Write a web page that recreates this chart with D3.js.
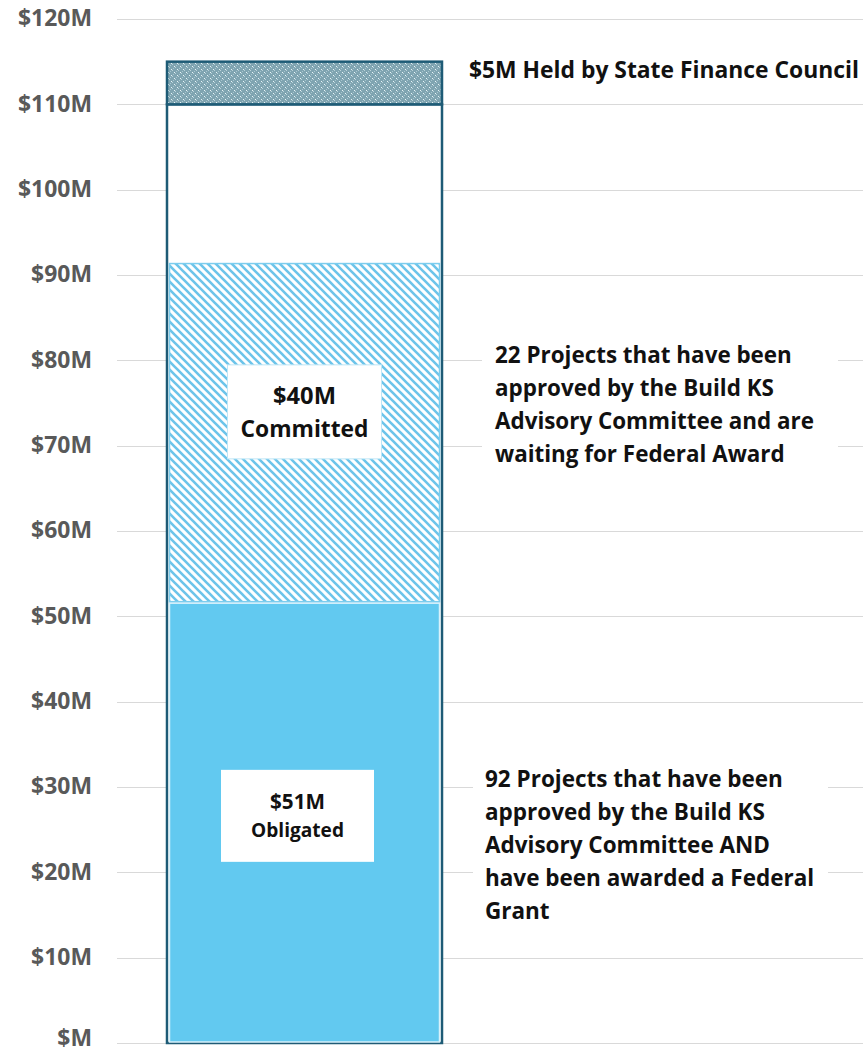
<!DOCTYPE html>
<html>
<head>
<meta charset="utf-8">
<script src="https://cdn.jsdelivr.net/npm/d3@7"></script>
<style>
  html, body { margin: 0; padding: 0; background: #fff; }
  svg { display: block; }
  text { font-family: "Open Sans", Lato, sans-serif; font-weight: 700; }
</style>
</head>
<body>
<svg id="chart" width="863" height="1054"></svg>
<script>
// ---- data ----
const categories = ["Build KS Funds"];
const segmentNames = ["Obligated", "Committed"];
const segmentValues = [51.6, 39.8];
const frameTotal = [110];
const heldValue = [5];
const tickValues = [0, 10, 20, 30, 40, 50, 60, 70, 80, 90, 100, 110, 120];
const tickLabels = ["$M", "$10M", "$20M", "$30M", "$40M", "$50M", "$60M", "$70M", "$80M", "$90M", "$100M", "$110M", "$120M"];
const boxLabels = [["$51M", "Obligated"], ["$40M", "Committed"]];
const heldLabel = ["$5M Held by State Finance Council"];
const committedNote = ["22 Projects that have been", "approved by the Build KS", "Advisory Committee and are", "waiting for Federal Award"];
const obligatedNote = ["92 Projects that have been", "approved by the Build KS", "Advisory Committee AND", "have been awarded a Federal", "Grant"];

// ---- layout ----
const svg = d3.select("#chart");
const W = 863;
const y = d3.scaleLinear().domain([0, 120]).range([1043, 19]);
const x = d3.scaleBand().domain(categories).range([167, 442]).padding(0);

function fit(sel, target) {
  const fs = +sel.attr("font-size");
  const w = sel.node().getComputedTextLength();
  if (w > 0) sel.attr("font-size", (fs * target / w).toFixed(2));
  return sel;
}

const defs = svg.append("defs");
const hatch = defs.append("pattern").attr("id", "hatch")
  .attr("patternUnits", "userSpaceOnUse").attr("width", 8).attr("height", 8);
hatch.append("rect").attr("width", 8).attr("height", 8).attr("fill", "#fff");
hatch.append("path").attr("d", "M-2,-2 L10,10 M-2,6 L2,10 M6,-2 L10,2")
  .attr("stroke", "#6cc4ea").attr("stroke-width", 2.6);
const dots = defs.append("pattern").attr("id", "dots")
  .attr("patternUnits", "userSpaceOnUse").attr("width", 6).attr("height", 6);
dots.append("rect").attr("width", 6).attr("height", 6).attr("fill", "#7fa4b1");
[[0,0,"#e8f4f7"],[3,3,"#e8f4f7"],[1,1,"#b9d2da"],[4,4,"#b9d2da"],[2,5,"#a9c6cf"],[5,2,"#a9c6cf"]]
  .forEach(p => dots.append("rect").attr("x", p[0]).attr("y", p[1]).attr("width", 1).attr("height", 1).attr("fill", p[2]));

// gridlines
svg.append("g").selectAll("line").data(tickValues).join("line")
  .attr("x1", 117).attr("x2", W)
  .attr("y1", d => Math.round(y(d)) + 0.5).attr("y2", d => Math.round(y(d)) + 0.5)
  .attr("stroke", "#d9d9d9").attr("stroke-width", 1);

// axis
const axis = d3.axisLeft(y).tickValues(tickValues)
  .tickFormat((d, i) => tickLabels[i]).tickSize(0).tickPadding(0);
const gA = svg.append("g").attr("transform", "translate(92,0)").call(axis);
gA.select(".domain").remove();
gA.selectAll("text").attr("fill", "#595959").attr("font-size", 20)
  .attr("font-family", "'Open Sans', sans-serif").attr("font-weight", 700).attr("dy", "0.3em");
{
  const top = gA.selectAll("text").filter((d, i) => i === tickValues.length - 1);
  const fs = +top.attr("font-size"), w = top.node().getComputedTextLength();
  gA.selectAll("text").attr("font-size", (fs * 74 / w).toFixed(2));
  // keep the bottom label inside the canvas
  gA.selectAll("text").filter(d => d === 0).attr("dy", "0.12em");
}

// frame bar (0-110)
const cat = categories[0];
svg.append("rect")
  .attr("x", x(cat)).attr("width", x.bandwidth())
  .attr("y", y(frameTotal[0])).attr("height", y(0) - y(frameTotal[0]))
  .attr("fill", "#fff").attr("stroke", "#1e5b76").attr("stroke-width", 2.5);

// stacked segments
let cum = 0;
const segs = segmentValues.map((v, i) => { const s = { name: segmentNames[i], y0: cum, y1: cum + v }; cum += v; return s; });
const segFill = ["#62c9f0", "url(#hatch)"];
const segStroke = ["#d8f1fb", "#7ccdee"];
svg.append("g").selectAll("rect").data(segs).join("rect")
  .attr("x", x(cat) + 2.5).attr("width", x.bandwidth() - 5)
  .attr("y", d => y(d.y1) + 0.5).attr("height", d => y(d.y0) - y(d.y1) - 1.5)
  .attr("fill", (d, i) => segFill[i]).attr("stroke", (d, i) => segStroke[i]).attr("stroke-width", 1.5);

// held segment (110-115)
svg.append("rect")
  .attr("x", x(cat)).attr("width", x.bandwidth())
  .attr("y", y(frameTotal[0] + heldValue[0])).attr("height", y(frameTotal[0]) - y(frameTotal[0] + heldValue[0]))
  .attr("fill", "url(#dots)").attr("stroke", "#1e5b76").attr("stroke-width", 2.5);

// label boxes inside segments
const boxSpec = [
  { w: 153, h: 92, dx: -7, dy: -7, lh: 28, widths: [55, 93], stroke: "none" },
  { w: 154, h: 94, dx: 0, dy: -21, lh: 33, widths: [63, 128], stroke: "#bfe6f6" }
];
segs.forEach((s, i) => {
  const b = boxSpec[i];
  const cx = x(cat) + x.bandwidth() / 2 + b.dx;
  const cy = (y(s.y0) + y(s.y1)) / 2 + b.dy;
  svg.append("rect").attr("x", cx - b.w / 2).attr("y", cy - b.h / 2)
    .attr("width", b.w).attr("height", b.h).attr("fill", "#fff")
    .attr("stroke", b.stroke).attr("stroke-width", 1);
  boxLabels[i].forEach((ln, j) => {
    const t = svg.append("text").attr("text-anchor", "middle").attr("font-size", 20).attr("fill", "#111")
      .attr("x", cx).attr("y", cy - b.lh / 2 + j * b.lh).attr("dy", "0.36em").text(ln);
    fit(t, b.widths[j]);
  });
});

// notes on the right
function note(lines, x0, base, bgX0, bgX1, target) {
  const lh = 33;
  svg.append("rect").attr("x", bgX0).attr("width", bgX1 - bgX0)
    .attr("y", base - 22).attr("height", lh * (lines.length - 1) + 30).attr("fill", "#fff");
  const t = svg.append("text").attr("font-size", 21).attr("fill", "#111");
  lines.forEach((ln, j) => t.append("tspan").attr("x", x0).attr("y", base + j * lh).text(ln));
  const probe = svg.append("text").attr("font-size", 21).text(lines[0]);
  const w = probe.node().getComputedTextLength();
  probe.remove();
  t.attr("font-size", (21 * target / w).toFixed(2));
}
note(committedNote, 495, 363, 482, 838, 297);
note(obligatedNote, 485, 787, 473, 828, 298);

fit(svg.append("text").attr("x", 469).attr("y", 78).attr("font-size", 21).attr("fill", "#111").text(heldLabel[0]), 390);
</script>
</body>
</html>
